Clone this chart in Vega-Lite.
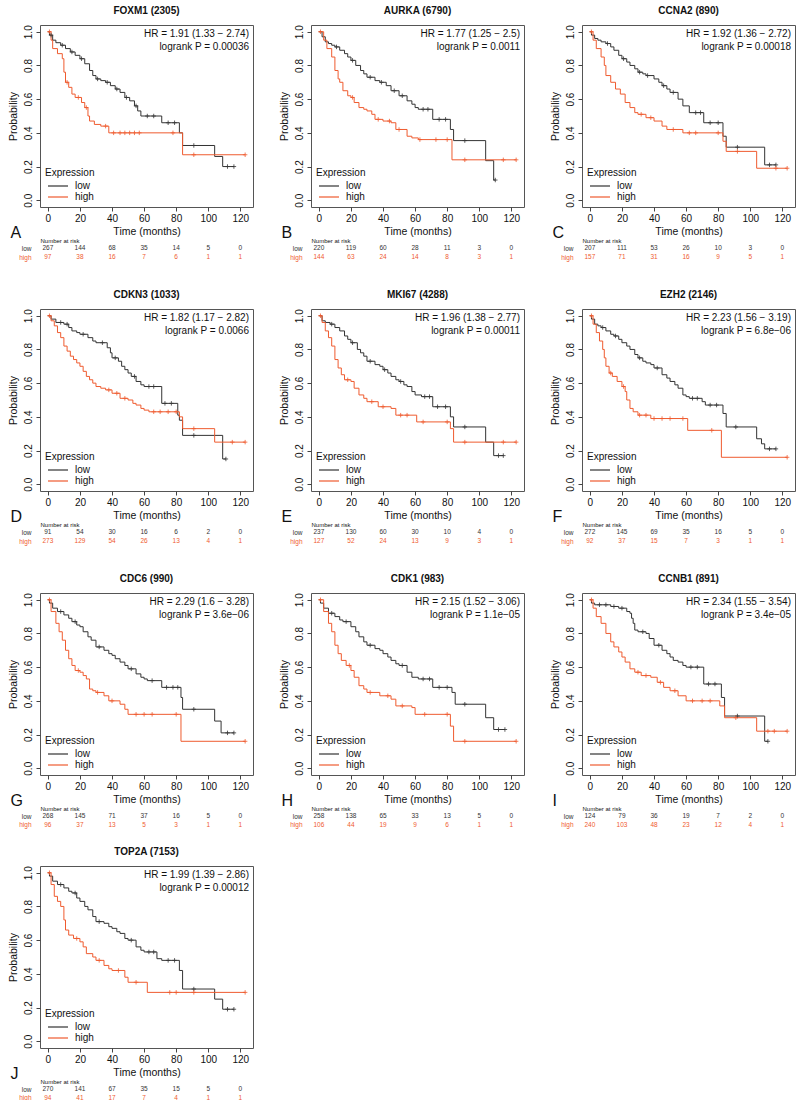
{
"$schema": "https://vega.github.io/schema/vega-lite/v6.json",
"padding": {"left": 7, "top": 5, "right": 2, "bottom": 2},
"config": {
 "font": "Liberation Sans",
 "view": {"stroke": "#555", "strokeWidth": 1},
 "axis": {"grid": false, "domain": false, "tickColor": "#444", "tickSize": 4, "labelColor": "#111", "titleColor": "#111", "labelFontSize": 10, "titleFontSize": 10.5, "titleFontWeight": "normal", "labelOverlap": false},
 "title": {"fontSize": 10, "fontWeight": "bold", "color": "#111", "offset": 9},
 "legend": {"orient": "bottom-left", "offset": 3, "padding": 2, "titleFontWeight": "normal", "titleFontSize": 10, "labelFontSize": 10, "symbolType": "M-2,0H2", "symbolSize": 100, "symbolOffset": 7, "symbolStrokeWidth": 1.2, "rowPadding": 0, "titlePadding": 2, "labelOffset": 11, "titleColor": "#111", "labelColor": "#111"}
},
"datasets": {
"info": [
{"p":"A","lab":"HR = 1.91 (1.33 − 2.74)\nlogrank P = 0.00036"},
{"p":"B","lab":"HR = 1.77 (1.25 − 2.5)\nlogrank P = 0.0011"},
{"p":"C","lab":"HR = 1.92 (1.36 − 2.72)\nlogrank P = 0.00018"},
{"p":"D","lab":"HR = 1.82 (1.17 − 2.82)\nlogrank P = 0.0066"},
{"p":"E","lab":"HR = 1.96 (1.38 − 2.77)\nlogrank P = 0.00011"},
{"p":"F","lab":"HR = 2.23 (1.56 − 3.19)\nlogrank P = 6.8e−06"},
{"p":"G","lab":"HR = 2.29 (1.6 − 3.28)\nlogrank P = 3.6e−06"},
{"p":"H","lab":"HR = 2.15 (1.52 − 3.06)\nlogrank P = 1.1e−05"},
{"p":"I","lab":"HR = 2.34 (1.55 − 3.54)\nlogrank P = 3.4e−05"},
{"p":"J","lab":"HR = 1.99 (1.39 − 2.86)\nlogrank P = 0.00012"}
],
"risk": [
{"p":"A","e":"low","t":0,"n":267},{"p":"A","e":"low","t":20,"n":144},{"p":"A","e":"low","t":40,"n":68},{"p":"A","e":"low","t":60,"n":35},{"p":"A","e":"low","t":80,"n":14},{"p":"A","e":"low","t":100,"n":5},{"p":"A","e":"low","t":120,"n":0},
{"p":"A","e":"high","t":0,"n":97},{"p":"A","e":"high","t":20,"n":38},{"p":"A","e":"high","t":40,"n":16},{"p":"A","e":"high","t":60,"n":7},{"p":"A","e":"high","t":80,"n":6},{"p":"A","e":"high","t":100,"n":1},{"p":"A","e":"high","t":120,"n":1},
{"p":"B","e":"low","t":0,"n":220},{"p":"B","e":"low","t":20,"n":119},{"p":"B","e":"low","t":40,"n":60},{"p":"B","e":"low","t":60,"n":28},{"p":"B","e":"low","t":80,"n":11},{"p":"B","e":"low","t":100,"n":3},{"p":"B","e":"low","t":120,"n":0},
{"p":"B","e":"high","t":0,"n":144},{"p":"B","e":"high","t":20,"n":63},{"p":"B","e":"high","t":40,"n":24},{"p":"B","e":"high","t":60,"n":14},{"p":"B","e":"high","t":80,"n":8},{"p":"B","e":"high","t":100,"n":3},{"p":"B","e":"high","t":120,"n":1},
{"p":"C","e":"low","t":0,"n":207},{"p":"C","e":"low","t":20,"n":111},{"p":"C","e":"low","t":40,"n":53},{"p":"C","e":"low","t":60,"n":26},{"p":"C","e":"low","t":80,"n":10},{"p":"C","e":"low","t":100,"n":3},{"p":"C","e":"low","t":120,"n":0},
{"p":"C","e":"high","t":0,"n":157},{"p":"C","e":"high","t":20,"n":71},{"p":"C","e":"high","t":40,"n":31},{"p":"C","e":"high","t":60,"n":16},{"p":"C","e":"high","t":80,"n":9},{"p":"C","e":"high","t":100,"n":5},{"p":"C","e":"high","t":120,"n":1},
{"p":"D","e":"low","t":0,"n":91},{"p":"D","e":"low","t":20,"n":54},{"p":"D","e":"low","t":40,"n":30},{"p":"D","e":"low","t":60,"n":16},{"p":"D","e":"low","t":80,"n":6},{"p":"D","e":"low","t":100,"n":2},{"p":"D","e":"low","t":120,"n":0},
{"p":"D","e":"high","t":0,"n":273},{"p":"D","e":"high","t":20,"n":129},{"p":"D","e":"high","t":40,"n":54},{"p":"D","e":"high","t":60,"n":26},{"p":"D","e":"high","t":80,"n":13},{"p":"D","e":"high","t":100,"n":4},{"p":"D","e":"high","t":120,"n":1},
{"p":"E","e":"low","t":0,"n":237},{"p":"E","e":"low","t":20,"n":130},{"p":"E","e":"low","t":40,"n":60},{"p":"E","e":"low","t":60,"n":30},{"p":"E","e":"low","t":80,"n":10},{"p":"E","e":"low","t":100,"n":4},{"p":"E","e":"low","t":120,"n":0},
{"p":"E","e":"high","t":0,"n":127},{"p":"E","e":"high","t":20,"n":52},{"p":"E","e":"high","t":40,"n":24},{"p":"E","e":"high","t":60,"n":13},{"p":"E","e":"high","t":80,"n":9},{"p":"E","e":"high","t":100,"n":3},{"p":"E","e":"high","t":120,"n":1},
{"p":"F","e":"low","t":0,"n":272},{"p":"F","e":"low","t":20,"n":145},{"p":"F","e":"low","t":40,"n":69},{"p":"F","e":"low","t":60,"n":35},{"p":"F","e":"low","t":80,"n":16},{"p":"F","e":"low","t":100,"n":5},{"p":"F","e":"low","t":120,"n":0},
{"p":"F","e":"high","t":0,"n":92},{"p":"F","e":"high","t":20,"n":37},{"p":"F","e":"high","t":40,"n":15},{"p":"F","e":"high","t":60,"n":7},{"p":"F","e":"high","t":80,"n":3},{"p":"F","e":"high","t":100,"n":1},{"p":"F","e":"high","t":120,"n":1},
{"p":"G","e":"low","t":0,"n":268},{"p":"G","e":"low","t":20,"n":145},{"p":"G","e":"low","t":40,"n":71},{"p":"G","e":"low","t":60,"n":37},{"p":"G","e":"low","t":80,"n":16},{"p":"G","e":"low","t":100,"n":5},{"p":"G","e":"low","t":120,"n":0},
{"p":"G","e":"high","t":0,"n":96},{"p":"G","e":"high","t":20,"n":37},{"p":"G","e":"high","t":40,"n":13},{"p":"G","e":"high","t":60,"n":5},{"p":"G","e":"high","t":80,"n":3},{"p":"G","e":"high","t":100,"n":1},{"p":"G","e":"high","t":120,"n":1},
{"p":"H","e":"low","t":0,"n":258},{"p":"H","e":"low","t":20,"n":138},{"p":"H","e":"low","t":40,"n":65},{"p":"H","e":"low","t":60,"n":33},{"p":"H","e":"low","t":80,"n":13},{"p":"H","e":"low","t":100,"n":5},{"p":"H","e":"low","t":120,"n":0},
{"p":"H","e":"high","t":0,"n":106},{"p":"H","e":"high","t":20,"n":44},{"p":"H","e":"high","t":40,"n":19},{"p":"H","e":"high","t":60,"n":9},{"p":"H","e":"high","t":80,"n":6},{"p":"H","e":"high","t":100,"n":1},{"p":"H","e":"high","t":120,"n":1},
{"p":"I","e":"low","t":0,"n":124},{"p":"I","e":"low","t":20,"n":79},{"p":"I","e":"low","t":40,"n":36},{"p":"I","e":"low","t":60,"n":19},{"p":"I","e":"low","t":80,"n":7},{"p":"I","e":"low","t":100,"n":2},{"p":"I","e":"low","t":120,"n":0},
{"p":"I","e":"high","t":0,"n":240},{"p":"I","e":"high","t":20,"n":103},{"p":"I","e":"high","t":40,"n":48},{"p":"I","e":"high","t":60,"n":23},{"p":"I","e":"high","t":80,"n":12},{"p":"I","e":"high","t":100,"n":4},{"p":"I","e":"high","t":120,"n":1},
{"p":"J","e":"low","t":0,"n":270},{"p":"J","e":"low","t":20,"n":141},{"p":"J","e":"low","t":40,"n":67},{"p":"J","e":"low","t":60,"n":35},{"p":"J","e":"low","t":80,"n":15},{"p":"J","e":"low","t":100,"n":5},{"p":"J","e":"low","t":120,"n":0},
{"p":"J","e":"high","t":0,"n":94},{"p":"J","e":"high","t":20,"n":41},{"p":"J","e":"high","t":40,"n":17},{"p":"J","e":"high","t":60,"n":7},{"p":"J","e":"high","t":80,"n":4},{"p":"J","e":"high","t":100,"n":1},{"p":"J","e":"high","t":120,"n":1}
],
"km": [
{"p":"A","e":"low","t":0,"s":1},{"p":"A","e":"low","t":1,"s":0.98},{"p":"A","e":"low","t":2,"s":0.98,"c":1},{"p":"A","e":"low","t":3,"s":0.95},{"p":"A","e":"low","t":5,"s":0.935},{"p":"A","e":"low","t":8,"s":0.92},{"p":"A","e":"low","t":9,"s":0.92,"c":1},{"p":"A","e":"low","t":11,"s":0.9},{"p":"A","e":"low","t":14,"s":0.88},{"p":"A","e":"low","t":15,"s":0.88,"c":1},{"p":"A","e":"low","t":17,"s":0.86},{"p":"A","e":"low","t":20,"s":0.84},{"p":"A","e":"low","t":21,"s":0.84,"c":1},{"p":"A","e":"low","t":23,"s":0.81},{"p":"A","e":"low","t":26,"s":0.77},{"p":"A","e":"low","t":28,"s":0.74},{"p":"A","e":"low","t":30,"s":0.72},{"p":"A","e":"low","t":31,"s":0.72,"c":1},{"p":"A","e":"low","t":33,"s":0.71},{"p":"A","e":"low","t":36,"s":0.7},{"p":"A","e":"low","t":37,"s":0.7,"c":1},{"p":"A","e":"low","t":39,"s":0.68},{"p":"A","e":"low","t":42,"s":0.66},{"p":"A","e":"low","t":43,"s":0.66,"c":1},{"p":"A","e":"low","t":45,"s":0.64},{"p":"A","e":"low","t":48,"s":0.61},{"p":"A","e":"low","t":49,"s":0.61,"c":1},{"p":"A","e":"low","t":51,"s":0.59},{"p":"A","e":"low","t":54,"s":0.56},{"p":"A","e":"low","t":55,"s":0.56,"c":1},{"p":"A","e":"low","t":56,"s":0.53},{"p":"A","e":"low","t":58,"s":0.5},{"p":"A","e":"low","t":62,"s":0.5,"c":1},{"p":"A","e":"low","t":66,"s":0.5,"c":1},{"p":"A","e":"low","t":71,"s":0.46},{"p":"A","e":"low","t":75,"s":0.46,"c":1},{"p":"A","e":"low","t":79,"s":0.46,"c":1},{"p":"A","e":"low","t":82,"s":0.4},{"p":"A","e":"low","t":84,"s":0.325},{"p":"A","e":"low","t":91,"s":0.325,"c":1},{"p":"A","e":"low","t":104,"s":0.26},{"p":"A","e":"low","t":109,"s":0.2},{"p":"A","e":"low","t":112,"s":0.2,"c":1},{"p":"A","e":"low","t":116,"s":0.2,"c":1},
{"p":"A","e":"high","t":0,"s":1},{"p":"A","e":"high","t":1,"s":1,"c":1},{"p":"A","e":"high","t":2,"s":0.95},{"p":"A","e":"high","t":3,"s":0.9},{"p":"A","e":"high","t":6,"s":0.87},{"p":"A","e":"high","t":9,"s":0.84},{"p":"A","e":"high","t":10,"s":0.76},{"p":"A","e":"high","t":11,"s":0.7},{"p":"A","e":"high","t":12,"s":0.7,"c":1},{"p":"A","e":"high","t":13,"s":0.67},{"p":"A","e":"high","t":15,"s":0.63},{"p":"A","e":"high","t":17,"s":0.61},{"p":"A","e":"high","t":19,"s":0.61,"c":1},{"p":"A","e":"high","t":21,"s":0.58},{"p":"A","e":"high","t":23,"s":0.55},{"p":"A","e":"high","t":24,"s":0.55,"c":1},{"p":"A","e":"high","t":25,"s":0.5},{"p":"A","e":"high","t":26,"s":0.47},{"p":"A","e":"high","t":29,"s":0.45},{"p":"A","e":"high","t":33,"s":0.44},{"p":"A","e":"high","t":36,"s":0.44,"c":1},{"p":"A","e":"high","t":38,"s":0.4},{"p":"A","e":"high","t":41,"s":0.4,"c":1},{"p":"A","e":"high","t":45,"s":0.4,"c":1},{"p":"A","e":"high","t":48,"s":0.4,"c":1},{"p":"A","e":"high","t":51,"s":0.4,"c":1},{"p":"A","e":"high","t":54,"s":0.4,"c":1},{"p":"A","e":"high","t":57,"s":0.4,"c":1},{"p":"A","e":"high","t":78,"s":0.4,"c":1},{"p":"A","e":"high","t":84,"s":0.27},{"p":"A","e":"high","t":91,"s":0.27,"c":1},{"p":"A","e":"high","t":123,"s":0.27,"c":1},
{"p":"B","e":"low","t":0,"s":1},{"p":"B","e":"low","t":2,"s":0.97},{"p":"B","e":"low","t":4,"s":0.94},{"p":"B","e":"low","t":6,"s":0.93},{"p":"B","e":"low","t":8,"s":0.92},{"p":"B","e":"low","t":10,"s":0.91},{"p":"B","e":"low","t":11,"s":0.91,"c":1},{"p":"B","e":"low","t":13,"s":0.89},{"p":"B","e":"low","t":16,"s":0.87},{"p":"B","e":"low","t":18,"s":0.85},{"p":"B","e":"low","t":20,"s":0.83},{"p":"B","e":"low","t":21,"s":0.83,"c":1},{"p":"B","e":"low","t":23,"s":0.8},{"p":"B","e":"low","t":26,"s":0.77},{"p":"B","e":"low","t":28,"s":0.75},{"p":"B","e":"low","t":30,"s":0.73},{"p":"B","e":"low","t":32,"s":0.73,"c":1},{"p":"B","e":"low","t":35,"s":0.71},{"p":"B","e":"low","t":38,"s":0.7},{"p":"B","e":"low","t":39,"s":0.7,"c":1},{"p":"B","e":"low","t":42,"s":0.68},{"p":"B","e":"low","t":45,"s":0.65},{"p":"B","e":"low","t":47,"s":0.65,"c":1},{"p":"B","e":"low","t":50,"s":0.62},{"p":"B","e":"low","t":52,"s":0.62,"c":1},{"p":"B","e":"low","t":55,"s":0.59},{"p":"B","e":"low","t":58,"s":0.57},{"p":"B","e":"low","t":60,"s":0.55},{"p":"B","e":"low","t":62,"s":0.54},{"p":"B","e":"low","t":65,"s":0.54,"c":1},{"p":"B","e":"low","t":68,"s":0.54,"c":1},{"p":"B","e":"low","t":71,"s":0.48},{"p":"B","e":"low","t":75,"s":0.48,"c":1},{"p":"B","e":"low","t":79,"s":0.48,"c":1},{"p":"B","e":"low","t":82,"s":0.42},{"p":"B","e":"low","t":84,"s":0.354},{"p":"B","e":"low","t":91,"s":0.354,"c":1},{"p":"B","e":"low","t":104,"s":0.235},{"p":"B","e":"low","t":109,"s":0.12},{"p":"B","e":"low","t":110,"s":0.12,"c":1},
{"p":"B","e":"high","t":0,"s":1},{"p":"B","e":"high","t":1,"s":1,"c":1},{"p":"B","e":"high","t":3,"s":0.95},{"p":"B","e":"high","t":5,"s":0.9},{"p":"B","e":"high","t":8,"s":0.85},{"p":"B","e":"high","t":10,"s":0.77},{"p":"B","e":"high","t":12,"s":0.72},{"p":"B","e":"high","t":13,"s":0.7},{"p":"B","e":"high","t":15,"s":0.65},{"p":"B","e":"high","t":18,"s":0.62},{"p":"B","e":"high","t":20,"s":0.61},{"p":"B","e":"high","t":21,"s":0.61,"c":1},{"p":"B","e":"high","t":22,"s":0.58},{"p":"B","e":"high","t":25,"s":0.55},{"p":"B","e":"high","t":28,"s":0.54},{"p":"B","e":"high","t":30,"s":0.53},{"p":"B","e":"high","t":33,"s":0.51},{"p":"B","e":"high","t":35,"s":0.48},{"p":"B","e":"high","t":37,"s":0.48,"c":1},{"p":"B","e":"high","t":40,"s":0.47},{"p":"B","e":"high","t":44,"s":0.47,"c":1},{"p":"B","e":"high","t":45,"s":0.46},{"p":"B","e":"high","t":48,"s":0.42},{"p":"B","e":"high","t":50,"s":0.42,"c":1},{"p":"B","e":"high","t":55,"s":0.38},{"p":"B","e":"high","t":58,"s":0.37},{"p":"B","e":"high","t":62,"s":0.36},{"p":"B","e":"high","t":63,"s":0.36,"c":1},{"p":"B","e":"high","t":73,"s":0.36,"c":1},{"p":"B","e":"high","t":80,"s":0.36,"c":1},{"p":"B","e":"high","t":83,"s":0.24},{"p":"B","e":"high","t":91,"s":0.24,"c":1},{"p":"B","e":"high","t":115,"s":0.24,"c":1},{"p":"B","e":"high","t":123,"s":0.24,"c":1},
{"p":"C","e":"low","t":0,"s":1},{"p":"C","e":"low","t":1,"s":0.98},{"p":"C","e":"low","t":3,"s":0.96},{"p":"C","e":"low","t":5,"s":0.95},{"p":"C","e":"low","t":7,"s":0.94},{"p":"C","e":"low","t":10,"s":0.93},{"p":"C","e":"low","t":11,"s":0.93,"c":1},{"p":"C","e":"low","t":13,"s":0.91},{"p":"C","e":"low","t":15,"s":0.89},{"p":"C","e":"low","t":18,"s":0.86},{"p":"C","e":"low","t":20,"s":0.84},{"p":"C","e":"low","t":21,"s":0.84,"c":1},{"p":"C","e":"low","t":23,"s":0.82},{"p":"C","e":"low","t":25,"s":0.8},{"p":"C","e":"low","t":28,"s":0.78},{"p":"C","e":"low","t":30,"s":0.76},{"p":"C","e":"low","t":31,"s":0.76,"c":1},{"p":"C","e":"low","t":33,"s":0.75},{"p":"C","e":"low","t":35,"s":0.74},{"p":"C","e":"low","t":36,"s":0.74,"c":1},{"p":"C","e":"low","t":40,"s":0.72},{"p":"C","e":"low","t":43,"s":0.7},{"p":"C","e":"low","t":45,"s":0.68},{"p":"C","e":"low","t":46,"s":0.68,"c":1},{"p":"C","e":"low","t":48,"s":0.66},{"p":"C","e":"low","t":50,"s":0.64},{"p":"C","e":"low","t":52,"s":0.64,"c":1},{"p":"C","e":"low","t":55,"s":0.6},{"p":"C","e":"low","t":58,"s":0.56},{"p":"C","e":"low","t":62,"s":0.52},{"p":"C","e":"low","t":66,"s":0.52,"c":1},{"p":"C","e":"low","t":69,"s":0.52,"c":1},{"p":"C","e":"low","t":71,"s":0.46},{"p":"C","e":"low","t":75,"s":0.46,"c":1},{"p":"C","e":"low","t":80,"s":0.46,"c":1},{"p":"C","e":"low","t":83,"s":0.38},{"p":"C","e":"low","t":85,"s":0.315},{"p":"C","e":"low","t":92,"s":0.315,"c":1},{"p":"C","e":"low","t":109,"s":0.21},{"p":"C","e":"low","t":112,"s":0.21,"c":1},{"p":"C","e":"low","t":116,"s":0.21,"c":1},
{"p":"C","e":"high","t":0,"s":1},{"p":"C","e":"high","t":1,"s":1,"c":1},{"p":"C","e":"high","t":2,"s":0.95},{"p":"C","e":"high","t":4,"s":0.9},{"p":"C","e":"high","t":7,"s":0.85},{"p":"C","e":"high","t":9,"s":0.8},{"p":"C","e":"high","t":10,"s":0.74},{"p":"C","e":"high","t":13,"s":0.7},{"p":"C","e":"high","t":16,"s":0.66},{"p":"C","e":"high","t":19,"s":0.63},{"p":"C","e":"high","t":22,"s":0.58},{"p":"C","e":"high","t":25,"s":0.55},{"p":"C","e":"high","t":28,"s":0.52},{"p":"C","e":"high","t":30,"s":0.51},{"p":"C","e":"high","t":32,"s":0.51,"c":1},{"p":"C","e":"high","t":35,"s":0.49},{"p":"C","e":"high","t":38,"s":0.49,"c":1},{"p":"C","e":"high","t":40,"s":0.47},{"p":"C","e":"high","t":45,"s":0.44},{"p":"C","e":"high","t":48,"s":0.42},{"p":"C","e":"high","t":52,"s":0.42,"c":1},{"p":"C","e":"high","t":58,"s":0.4},{"p":"C","e":"high","t":62,"s":0.4,"c":1},{"p":"C","e":"high","t":66,"s":0.4,"c":1},{"p":"C","e":"high","t":80,"s":0.4,"c":1},{"p":"C","e":"high","t":83,"s":0.35},{"p":"C","e":"high","t":85,"s":0.29},{"p":"C","e":"high","t":92,"s":0.29,"c":1},{"p":"C","e":"high","t":104,"s":0.19},{"p":"C","e":"high","t":116,"s":0.19,"c":1},{"p":"C","e":"high","t":123,"s":0.19,"c":1},
{"p":"D","e":"low","t":0,"s":1},{"p":"D","e":"low","t":2,"s":0.98},{"p":"D","e":"low","t":5,"s":0.96},{"p":"D","e":"low","t":8,"s":0.96,"c":1},{"p":"D","e":"low","t":10,"s":0.95},{"p":"D","e":"low","t":12,"s":0.95,"c":1},{"p":"D","e":"low","t":13,"s":0.93},{"p":"D","e":"low","t":15,"s":0.91},{"p":"D","e":"low","t":18,"s":0.9},{"p":"D","e":"low","t":20,"s":0.89},{"p":"D","e":"low","t":22,"s":0.89,"c":1},{"p":"D","e":"low","t":25,"s":0.87},{"p":"D","e":"low","t":28,"s":0.85},{"p":"D","e":"low","t":30,"s":0.84},{"p":"D","e":"low","t":34,"s":0.84,"c":1},{"p":"D","e":"low","t":37,"s":0.81},{"p":"D","e":"low","t":39,"s":0.78},{"p":"D","e":"low","t":40,"s":0.75},{"p":"D","e":"low","t":42,"s":0.75,"c":1},{"p":"D","e":"low","t":44,"s":0.73},{"p":"D","e":"low","t":46,"s":0.7},{"p":"D","e":"low","t":48,"s":0.68},{"p":"D","e":"low","t":50,"s":0.66},{"p":"D","e":"low","t":52,"s":0.64},{"p":"D","e":"low","t":54,"s":0.64,"c":1},{"p":"D","e":"low","t":55,"s":0.61},{"p":"D","e":"low","t":58,"s":0.59},{"p":"D","e":"low","t":60,"s":0.58},{"p":"D","e":"low","t":63,"s":0.58,"c":1},{"p":"D","e":"low","t":66,"s":0.58,"c":1},{"p":"D","e":"low","t":71,"s":0.48},{"p":"D","e":"low","t":73,"s":0.48,"c":1},{"p":"D","e":"low","t":77,"s":0.48,"c":1},{"p":"D","e":"low","t":81,"s":0.41},{"p":"D","e":"low","t":82,"s":0.38},{"p":"D","e":"low","t":84,"s":0.29},{"p":"D","e":"low","t":91,"s":0.29,"c":1},{"p":"D","e":"low","t":109,"s":0.15},{"p":"D","e":"low","t":111,"s":0.15,"c":1},
{"p":"D","e":"high","t":0,"s":1},{"p":"D","e":"high","t":1,"s":1,"c":1},{"p":"D","e":"high","t":2,"s":0.97},{"p":"D","e":"high","t":4,"s":0.94},{"p":"D","e":"high","t":6,"s":0.9},{"p":"D","e":"high","t":8,"s":0.87},{"p":"D","e":"high","t":10,"s":0.82},{"p":"D","e":"high","t":12,"s":0.79},{"p":"D","e":"high","t":14,"s":0.76},{"p":"D","e":"high","t":16,"s":0.74},{"p":"D","e":"high","t":18,"s":0.72},{"p":"D","e":"high","t":20,"s":0.7},{"p":"D","e":"high","t":22,"s":0.67},{"p":"D","e":"high","t":24,"s":0.64},{"p":"D","e":"high","t":26,"s":0.62},{"p":"D","e":"high","t":28,"s":0.6},{"p":"D","e":"high","t":30,"s":0.58},{"p":"D","e":"high","t":33,"s":0.57},{"p":"D","e":"high","t":36,"s":0.56},{"p":"D","e":"high","t":38,"s":0.56,"c":1},{"p":"D","e":"high","t":40,"s":0.54},{"p":"D","e":"high","t":43,"s":0.54,"c":1},{"p":"D","e":"high","t":45,"s":0.51},{"p":"D","e":"high","t":48,"s":0.51,"c":1},{"p":"D","e":"high","t":50,"s":0.5},{"p":"D","e":"high","t":53,"s":0.48},{"p":"D","e":"high","t":55,"s":0.47},{"p":"D","e":"high","t":58,"s":0.45},{"p":"D","e":"high","t":60,"s":0.44},{"p":"D","e":"high","t":63,"s":0.43},{"p":"D","e":"high","t":66,"s":0.43,"c":1},{"p":"D","e":"high","t":70,"s":0.43,"c":1},{"p":"D","e":"high","t":75,"s":0.43,"c":1},{"p":"D","e":"high","t":80,"s":0.43,"c":1},{"p":"D","e":"high","t":82,"s":0.4},{"p":"D","e":"high","t":84,"s":0.33},{"p":"D","e":"high","t":91,"s":0.33,"c":1},{"p":"D","e":"high","t":104,"s":0.25},{"p":"D","e":"high","t":115,"s":0.25,"c":1},{"p":"D","e":"high","t":123,"s":0.25,"c":1},
{"p":"E","e":"low","t":0,"s":1},{"p":"E","e":"low","t":2,"s":0.97},{"p":"E","e":"low","t":4,"s":0.96},{"p":"E","e":"low","t":7,"s":0.95},{"p":"E","e":"low","t":8,"s":0.95,"c":1},{"p":"E","e":"low","t":10,"s":0.93},{"p":"E","e":"low","t":13,"s":0.91},{"p":"E","e":"low","t":16,"s":0.88},{"p":"E","e":"low","t":18,"s":0.86},{"p":"E","e":"low","t":20,"s":0.84},{"p":"E","e":"low","t":21,"s":0.84,"c":1},{"p":"E","e":"low","t":24,"s":0.8},{"p":"E","e":"low","t":26,"s":0.78},{"p":"E","e":"low","t":28,"s":0.76},{"p":"E","e":"low","t":30,"s":0.73},{"p":"E","e":"low","t":32,"s":0.73,"c":1},{"p":"E","e":"low","t":35,"s":0.71},{"p":"E","e":"low","t":38,"s":0.7},{"p":"E","e":"low","t":40,"s":0.68},{"p":"E","e":"low","t":41,"s":0.68,"c":1},{"p":"E","e":"low","t":43,"s":0.66},{"p":"E","e":"low","t":45,"s":0.64},{"p":"E","e":"low","t":48,"s":0.62},{"p":"E","e":"low","t":50,"s":0.61},{"p":"E","e":"low","t":51,"s":0.61,"c":1},{"p":"E","e":"low","t":53,"s":0.59},{"p":"E","e":"low","t":55,"s":0.58},{"p":"E","e":"low","t":58,"s":0.55},{"p":"E","e":"low","t":60,"s":0.53},{"p":"E","e":"low","t":64,"s":0.52},{"p":"E","e":"low","t":66,"s":0.52,"c":1},{"p":"E","e":"low","t":69,"s":0.52,"c":1},{"p":"E","e":"low","t":71,"s":0.46},{"p":"E","e":"low","t":74,"s":0.46,"c":1},{"p":"E","e":"low","t":79,"s":0.46,"c":1},{"p":"E","e":"low","t":82,"s":0.4},{"p":"E","e":"low","t":84,"s":0.34},{"p":"E","e":"low","t":91,"s":0.34,"c":1},{"p":"E","e":"low","t":104,"s":0.25},{"p":"E","e":"low","t":109,"s":0.17},{"p":"E","e":"low","t":112,"s":0.17,"c":1},{"p":"E","e":"low","t":115,"s":0.17,"c":1},
{"p":"E","e":"high","t":0,"s":1},{"p":"E","e":"high","t":1,"s":1,"c":1},{"p":"E","e":"high","t":2,"s":0.96},{"p":"E","e":"high","t":4,"s":0.91},{"p":"E","e":"high","t":6,"s":0.87},{"p":"E","e":"high","t":8,"s":0.82},{"p":"E","e":"high","t":10,"s":0.74},{"p":"E","e":"high","t":12,"s":0.69},{"p":"E","e":"high","t":14,"s":0.65},{"p":"E","e":"high","t":16,"s":0.62},{"p":"E","e":"high","t":18,"s":0.62,"c":1},{"p":"E","e":"high","t":20,"s":0.61},{"p":"E","e":"high","t":22,"s":0.57},{"p":"E","e":"high","t":25,"s":0.53},{"p":"E","e":"high","t":28,"s":0.51},{"p":"E","e":"high","t":30,"s":0.49},{"p":"E","e":"high","t":33,"s":0.49,"c":1},{"p":"E","e":"high","t":37,"s":0.46},{"p":"E","e":"high","t":40,"s":0.46,"c":1},{"p":"E","e":"high","t":45,"s":0.45},{"p":"E","e":"high","t":48,"s":0.41},{"p":"E","e":"high","t":51,"s":0.41,"c":1},{"p":"E","e":"high","t":55,"s":0.41,"c":1},{"p":"E","e":"high","t":61,"s":0.37},{"p":"E","e":"high","t":65,"s":0.37,"c":1},{"p":"E","e":"high","t":80,"s":0.37,"c":1},{"p":"E","e":"high","t":82,"s":0.33},{"p":"E","e":"high","t":84,"s":0.25},{"p":"E","e":"high","t":91,"s":0.25,"c":1},{"p":"E","e":"high","t":115,"s":0.25,"c":1},{"p":"E","e":"high","t":123,"s":0.25,"c":1},
{"p":"F","e":"low","t":0,"s":1},{"p":"F","e":"low","t":1,"s":0.98},{"p":"F","e":"low","t":3,"s":0.95},{"p":"F","e":"low","t":5,"s":0.94},{"p":"F","e":"low","t":7,"s":0.93},{"p":"F","e":"low","t":8,"s":0.93,"c":1},{"p":"F","e":"low","t":10,"s":0.91},{"p":"F","e":"low","t":13,"s":0.89},{"p":"F","e":"low","t":15,"s":0.88},{"p":"F","e":"low","t":16,"s":0.88,"c":1},{"p":"F","e":"low","t":18,"s":0.86},{"p":"F","e":"low","t":20,"s":0.84},{"p":"F","e":"low","t":23,"s":0.82},{"p":"F","e":"low","t":25,"s":0.8},{"p":"F","e":"low","t":28,"s":0.77},{"p":"F","e":"low","t":30,"s":0.75},{"p":"F","e":"low","t":31,"s":0.75,"c":1},{"p":"F","e":"low","t":33,"s":0.73},{"p":"F","e":"low","t":35,"s":0.72},{"p":"F","e":"low","t":38,"s":0.71},{"p":"F","e":"low","t":40,"s":0.69},{"p":"F","e":"low","t":42,"s":0.69,"c":1},{"p":"F","e":"low","t":45,"s":0.65},{"p":"F","e":"low","t":48,"s":0.63},{"p":"F","e":"low","t":50,"s":0.61},{"p":"F","e":"low","t":53,"s":0.59},{"p":"F","e":"low","t":55,"s":0.57},{"p":"F","e":"low","t":58,"s":0.53},{"p":"F","e":"low","t":60,"s":0.52},{"p":"F","e":"low","t":62,"s":0.51},{"p":"F","e":"low","t":64,"s":0.51,"c":1},{"p":"F","e":"low","t":67,"s":0.51,"c":1},{"p":"F","e":"low","t":70,"s":0.49},{"p":"F","e":"low","t":72,"s":0.47},{"p":"F","e":"low","t":75,"s":0.47,"c":1},{"p":"F","e":"low","t":79,"s":0.47,"c":1},{"p":"F","e":"low","t":83,"s":0.42},{"p":"F","e":"low","t":85,"s":0.34},{"p":"F","e":"low","t":91,"s":0.34,"c":1},{"p":"F","e":"low","t":104,"s":0.27},{"p":"F","e":"low","t":107,"s":0.24},{"p":"F","e":"low","t":109,"s":0.21},{"p":"F","e":"low","t":112,"s":0.21,"c":1},{"p":"F","e":"low","t":116,"s":0.21,"c":1},
{"p":"F","e":"high","t":0,"s":1},{"p":"F","e":"high","t":1,"s":1,"c":1},{"p":"F","e":"high","t":2,"s":0.95},{"p":"F","e":"high","t":4,"s":0.9},{"p":"F","e":"high","t":6,"s":0.85},{"p":"F","e":"high","t":8,"s":0.8},{"p":"F","e":"high","t":9,"s":0.75},{"p":"F","e":"high","t":10,"s":0.7},{"p":"F","e":"high","t":12,"s":0.66},{"p":"F","e":"high","t":13,"s":0.66,"c":1},{"p":"F","e":"high","t":14,"s":0.64},{"p":"F","e":"high","t":17,"s":0.61},{"p":"F","e":"high","t":20,"s":0.58},{"p":"F","e":"high","t":21,"s":0.58,"c":1},{"p":"F","e":"high","t":22,"s":0.55},{"p":"F","e":"high","t":23,"s":0.5},{"p":"F","e":"high","t":25,"s":0.45},{"p":"F","e":"high","t":27,"s":0.43},{"p":"F","e":"high","t":30,"s":0.41},{"p":"F","e":"high","t":31,"s":0.41,"c":1},{"p":"F","e":"high","t":35,"s":0.41,"c":1},{"p":"F","e":"high","t":38,"s":0.39},{"p":"F","e":"high","t":40,"s":0.39,"c":1},{"p":"F","e":"high","t":45,"s":0.39,"c":1},{"p":"F","e":"high","t":50,"s":0.39,"c":1},{"p":"F","e":"high","t":58,"s":0.39,"c":1},{"p":"F","e":"high","t":61,"s":0.32},{"p":"F","e":"high","t":76,"s":0.32,"c":1},{"p":"F","e":"high","t":82,"s":0.16},{"p":"F","e":"high","t":123,"s":0.16,"c":1},
{"p":"G","e":"low","t":0,"s":1},{"p":"G","e":"low","t":1,"s":0.98},{"p":"G","e":"low","t":3,"s":0.95},{"p":"G","e":"low","t":6,"s":0.93},{"p":"G","e":"low","t":8,"s":0.93,"c":1},{"p":"G","e":"low","t":10,"s":0.91},{"p":"G","e":"low","t":13,"s":0.89},{"p":"G","e":"low","t":15,"s":0.87},{"p":"G","e":"low","t":17,"s":0.87,"c":1},{"p":"G","e":"low","t":18,"s":0.85},{"p":"G","e":"low","t":20,"s":0.84},{"p":"G","e":"low","t":22,"s":0.81},{"p":"G","e":"low","t":25,"s":0.78},{"p":"G","e":"low","t":27,"s":0.76},{"p":"G","e":"low","t":30,"s":0.72},{"p":"G","e":"low","t":32,"s":0.72,"c":1},{"p":"G","e":"low","t":35,"s":0.7},{"p":"G","e":"low","t":38,"s":0.68},{"p":"G","e":"low","t":40,"s":0.67},{"p":"G","e":"low","t":42,"s":0.65},{"p":"G","e":"low","t":45,"s":0.63},{"p":"G","e":"low","t":48,"s":0.61},{"p":"G","e":"low","t":50,"s":0.59},{"p":"G","e":"low","t":52,"s":0.59,"c":1},{"p":"G","e":"low","t":55,"s":0.56},{"p":"G","e":"low","t":58,"s":0.54},{"p":"G","e":"low","t":60,"s":0.53},{"p":"G","e":"low","t":62,"s":0.52},{"p":"G","e":"low","t":65,"s":0.52,"c":1},{"p":"G","e":"low","t":71,"s":0.48},{"p":"G","e":"low","t":74,"s":0.48,"c":1},{"p":"G","e":"low","t":78,"s":0.48,"c":1},{"p":"G","e":"low","t":81,"s":0.48,"c":1},{"p":"G","e":"low","t":83,"s":0.42},{"p":"G","e":"low","t":84,"s":0.35},{"p":"G","e":"low","t":91,"s":0.35,"c":1},{"p":"G","e":"low","t":104,"s":0.28},{"p":"G","e":"low","t":108,"s":0.21},{"p":"G","e":"low","t":112,"s":0.21,"c":1},{"p":"G","e":"low","t":116,"s":0.21,"c":1},
{"p":"G","e":"high","t":0,"s":1},{"p":"G","e":"high","t":1,"s":1,"c":1},{"p":"G","e":"high","t":2,"s":0.93},{"p":"G","e":"high","t":5,"s":0.86},{"p":"G","e":"high","t":7,"s":0.81},{"p":"G","e":"high","t":9,"s":0.76},{"p":"G","e":"high","t":11,"s":0.7},{"p":"G","e":"high","t":13,"s":0.65},{"p":"G","e":"high","t":15,"s":0.61},{"p":"G","e":"high","t":17,"s":0.58},{"p":"G","e":"high","t":19,"s":0.58,"c":1},{"p":"G","e":"high","t":20,"s":0.57},{"p":"G","e":"high","t":22,"s":0.55},{"p":"G","e":"high","t":24,"s":0.53},{"p":"G","e":"high","t":26,"s":0.47},{"p":"G","e":"high","t":28,"s":0.46},{"p":"G","e":"high","t":30,"s":0.45},{"p":"G","e":"high","t":31,"s":0.45,"c":1},{"p":"G","e":"high","t":35,"s":0.43},{"p":"G","e":"high","t":38,"s":0.4},{"p":"G","e":"high","t":40,"s":0.4,"c":1},{"p":"G","e":"high","t":45,"s":0.38},{"p":"G","e":"high","t":48,"s":0.35},{"p":"G","e":"high","t":50,"s":0.32},{"p":"G","e":"high","t":55,"s":0.32,"c":1},{"p":"G","e":"high","t":60,"s":0.32,"c":1},{"p":"G","e":"high","t":65,"s":0.32,"c":1},{"p":"G","e":"high","t":80,"s":0.32,"c":1},{"p":"G","e":"high","t":83,"s":0.16},{"p":"G","e":"high","t":123,"s":0.16,"c":1},
{"p":"H","e":"low","t":0,"s":1},{"p":"H","e":"low","t":1,"s":0.98},{"p":"H","e":"low","t":3,"s":0.95},{"p":"H","e":"low","t":6,"s":0.92},{"p":"H","e":"low","t":8,"s":0.92,"c":1},{"p":"H","e":"low","t":10,"s":0.9},{"p":"H","e":"low","t":13,"s":0.88},{"p":"H","e":"low","t":15,"s":0.87},{"p":"H","e":"low","t":17,"s":0.87,"c":1},{"p":"H","e":"low","t":20,"s":0.84},{"p":"H","e":"low","t":23,"s":0.81},{"p":"H","e":"low","t":25,"s":0.78},{"p":"H","e":"low","t":28,"s":0.75},{"p":"H","e":"low","t":30,"s":0.73},{"p":"H","e":"low","t":32,"s":0.73,"c":1},{"p":"H","e":"low","t":35,"s":0.71},{"p":"H","e":"low","t":38,"s":0.7},{"p":"H","e":"low","t":40,"s":0.68},{"p":"H","e":"low","t":43,"s":0.66},{"p":"H","e":"low","t":45,"s":0.64},{"p":"H","e":"low","t":48,"s":0.62},{"p":"H","e":"low","t":50,"s":0.61},{"p":"H","e":"low","t":52,"s":0.61,"c":1},{"p":"H","e":"low","t":55,"s":0.57},{"p":"H","e":"low","t":58,"s":0.54},{"p":"H","e":"low","t":62,"s":0.53},{"p":"H","e":"low","t":65,"s":0.53,"c":1},{"p":"H","e":"low","t":69,"s":0.53,"c":1},{"p":"H","e":"low","t":71,"s":0.48},{"p":"H","e":"low","t":75,"s":0.48,"c":1},{"p":"H","e":"low","t":80,"s":0.48,"c":1},{"p":"H","e":"low","t":83,"s":0.45},{"p":"H","e":"low","t":85,"s":0.38},{"p":"H","e":"low","t":91,"s":0.38,"c":1},{"p":"H","e":"low","t":104,"s":0.3},{"p":"H","e":"low","t":109,"s":0.23},{"p":"H","e":"low","t":112,"s":0.23,"c":1},{"p":"H","e":"low","t":116,"s":0.23,"c":1},
{"p":"H","e":"high","t":0,"s":1},{"p":"H","e":"high","t":1,"s":1,"c":1},{"p":"H","e":"high","t":3,"s":0.93},{"p":"H","e":"high","t":6,"s":0.86},{"p":"H","e":"high","t":8,"s":0.81},{"p":"H","e":"high","t":10,"s":0.73},{"p":"H","e":"high","t":12,"s":0.68},{"p":"H","e":"high","t":14,"s":0.64},{"p":"H","e":"high","t":17,"s":0.61},{"p":"H","e":"high","t":19,"s":0.61,"c":1},{"p":"H","e":"high","t":20,"s":0.58},{"p":"H","e":"high","t":22,"s":0.54},{"p":"H","e":"high","t":25,"s":0.49},{"p":"H","e":"high","t":28,"s":0.47},{"p":"H","e":"high","t":30,"s":0.45},{"p":"H","e":"high","t":32,"s":0.45,"c":1},{"p":"H","e":"high","t":38,"s":0.43},{"p":"H","e":"high","t":43,"s":0.43,"c":1},{"p":"H","e":"high","t":45,"s":0.41},{"p":"H","e":"high","t":48,"s":0.37},{"p":"H","e":"high","t":52,"s":0.37,"c":1},{"p":"H","e":"high","t":58,"s":0.36},{"p":"H","e":"high","t":60,"s":0.32},{"p":"H","e":"high","t":66,"s":0.32,"c":1},{"p":"H","e":"high","t":80,"s":0.32,"c":1},{"p":"H","e":"high","t":82,"s":0.25},{"p":"H","e":"high","t":84,"s":0.16},{"p":"H","e":"high","t":91,"s":0.16,"c":1},{"p":"H","e":"high","t":123,"s":0.16,"c":1},
{"p":"I","e":"low","t":0,"s":1},{"p":"I","e":"low","t":1,"s":0.98},{"p":"I","e":"low","t":3,"s":0.97},{"p":"I","e":"low","t":6,"s":0.97,"c":1},{"p":"I","e":"low","t":10,"s":0.97,"c":1},{"p":"I","e":"low","t":13,"s":0.96},{"p":"I","e":"low","t":15,"s":0.96,"c":1},{"p":"I","e":"low","t":18,"s":0.95},{"p":"I","e":"low","t":20,"s":0.95,"c":1},{"p":"I","e":"low","t":23,"s":0.93},{"p":"I","e":"low","t":25,"s":0.92},{"p":"I","e":"low","t":26,"s":0.89},{"p":"I","e":"low","t":27,"s":0.86},{"p":"I","e":"low","t":28,"s":0.82},{"p":"I","e":"low","t":30,"s":0.81},{"p":"I","e":"low","t":33,"s":0.81,"c":1},{"p":"I","e":"low","t":35,"s":0.8},{"p":"I","e":"low","t":37,"s":0.77},{"p":"I","e":"low","t":40,"s":0.73},{"p":"I","e":"low","t":43,"s":0.73,"c":1},{"p":"I","e":"low","t":45,"s":0.7},{"p":"I","e":"low","t":48,"s":0.68},{"p":"I","e":"low","t":50,"s":0.66},{"p":"I","e":"low","t":52,"s":0.64},{"p":"I","e":"low","t":55,"s":0.63},{"p":"I","e":"low","t":58,"s":0.61},{"p":"I","e":"low","t":60,"s":0.6},{"p":"I","e":"low","t":63,"s":0.6,"c":1},{"p":"I","e":"low","t":67,"s":0.6,"c":1},{"p":"I","e":"low","t":71,"s":0.5},{"p":"I","e":"low","t":74,"s":0.5,"c":1},{"p":"I","e":"low","t":78,"s":0.5,"c":1},{"p":"I","e":"low","t":82,"s":0.42},{"p":"I","e":"low","t":84,"s":0.31},{"p":"I","e":"low","t":92,"s":0.31,"c":1},{"p":"I","e":"low","t":109,"s":0.16},{"p":"I","e":"low","t":111,"s":0.16,"c":1},
{"p":"I","e":"high","t":0,"s":1},{"p":"I","e":"high","t":1,"s":1,"c":1},{"p":"I","e":"high","t":2,"s":0.95},{"p":"I","e":"high","t":4,"s":0.9},{"p":"I","e":"high","t":7,"s":0.86},{"p":"I","e":"high","t":10,"s":0.8},{"p":"I","e":"high","t":13,"s":0.75},{"p":"I","e":"high","t":15,"s":0.72},{"p":"I","e":"high","t":18,"s":0.69},{"p":"I","e":"high","t":20,"s":0.66},{"p":"I","e":"high","t":22,"s":0.63},{"p":"I","e":"high","t":25,"s":0.59},{"p":"I","e":"high","t":28,"s":0.57},{"p":"I","e":"high","t":30,"s":0.57,"c":1},{"p":"I","e":"high","t":32,"s":0.55},{"p":"I","e":"high","t":35,"s":0.55,"c":1},{"p":"I","e":"high","t":38,"s":0.54},{"p":"I","e":"high","t":42,"s":0.51},{"p":"I","e":"high","t":44,"s":0.51,"c":1},{"p":"I","e":"high","t":46,"s":0.48},{"p":"I","e":"high","t":50,"s":0.46},{"p":"I","e":"high","t":53,"s":0.46,"c":1},{"p":"I","e":"high","t":55,"s":0.43},{"p":"I","e":"high","t":60,"s":0.4},{"p":"I","e":"high","t":64,"s":0.4,"c":1},{"p":"I","e":"high","t":70,"s":0.4,"c":1},{"p":"I","e":"high","t":75,"s":0.4,"c":1},{"p":"I","e":"high","t":81,"s":0.37},{"p":"I","e":"high","t":84,"s":0.3},{"p":"I","e":"high","t":91,"s":0.3,"c":1},{"p":"I","e":"high","t":104,"s":0.22},{"p":"I","e":"high","t":111,"s":0.22,"c":1},{"p":"I","e":"high","t":115,"s":0.22,"c":1},{"p":"I","e":"high","t":123,"s":0.22,"c":1},
{"p":"J","e":"low","t":0,"s":1},{"p":"J","e":"low","t":1,"s":0.98},{"p":"J","e":"low","t":3,"s":0.95},{"p":"J","e":"low","t":6,"s":0.93},{"p":"J","e":"low","t":8,"s":0.93,"c":1},{"p":"J","e":"low","t":10,"s":0.91},{"p":"J","e":"low","t":13,"s":0.89},{"p":"J","e":"low","t":15,"s":0.88},{"p":"J","e":"low","t":17,"s":0.88,"c":1},{"p":"J","e":"low","t":18,"s":0.85},{"p":"J","e":"low","t":20,"s":0.83},{"p":"J","e":"low","t":23,"s":0.8},{"p":"J","e":"low","t":25,"s":0.78},{"p":"J","e":"low","t":28,"s":0.74},{"p":"J","e":"low","t":30,"s":0.71},{"p":"J","e":"low","t":32,"s":0.71,"c":1},{"p":"J","e":"low","t":35,"s":0.7},{"p":"J","e":"low","t":38,"s":0.68},{"p":"J","e":"low","t":40,"s":0.67},{"p":"J","e":"low","t":43,"s":0.65},{"p":"J","e":"low","t":45,"s":0.64},{"p":"J","e":"low","t":48,"s":0.61},{"p":"J","e":"low","t":50,"s":0.6},{"p":"J","e":"low","t":52,"s":0.6,"c":1},{"p":"J","e":"low","t":55,"s":0.56},{"p":"J","e":"low","t":58,"s":0.54},{"p":"J","e":"low","t":60,"s":0.53},{"p":"J","e":"low","t":63,"s":0.53,"c":1},{"p":"J","e":"low","t":66,"s":0.53,"c":1},{"p":"J","e":"low","t":68,"s":0.49},{"p":"J","e":"low","t":71,"s":0.48},{"p":"J","e":"low","t":75,"s":0.48,"c":1},{"p":"J","e":"low","t":79,"s":0.48,"c":1},{"p":"J","e":"low","t":82,"s":0.42},{"p":"J","e":"low","t":84,"s":0.31},{"p":"J","e":"low","t":91,"s":0.31,"c":1},{"p":"J","e":"low","t":104,"s":0.25},{"p":"J","e":"low","t":109,"s":0.19},{"p":"J","e":"low","t":112,"s":0.19,"c":1},{"p":"J","e":"low","t":116,"s":0.19,"c":1},
{"p":"J","e":"high","t":0,"s":1},{"p":"J","e":"high","t":1,"s":1,"c":1},{"p":"J","e":"high","t":2,"s":0.93},{"p":"J","e":"high","t":4,"s":0.86},{"p":"J","e":"high","t":6,"s":0.83},{"p":"J","e":"high","t":8,"s":0.8},{"p":"J","e":"high","t":10,"s":0.72},{"p":"J","e":"high","t":11,"s":0.66},{"p":"J","e":"high","t":13,"s":0.63},{"p":"J","e":"high","t":16,"s":0.61},{"p":"J","e":"high","t":18,"s":0.61,"c":1},{"p":"J","e":"high","t":20,"s":0.59},{"p":"J","e":"high","t":22,"s":0.56},{"p":"J","e":"high","t":24,"s":0.52},{"p":"J","e":"high","t":28,"s":0.5},{"p":"J","e":"high","t":30,"s":0.48},{"p":"J","e":"high","t":32,"s":0.48,"c":1},{"p":"J","e":"high","t":35,"s":0.45},{"p":"J","e":"high","t":38,"s":0.43},{"p":"J","e":"high","t":40,"s":0.42},{"p":"J","e":"high","t":44,"s":0.42,"c":1},{"p":"J","e":"high","t":48,"s":0.38},{"p":"J","e":"high","t":50,"s":0.35},{"p":"J","e":"high","t":55,"s":0.35,"c":1},{"p":"J","e":"high","t":62,"s":0.29},{"p":"J","e":"high","t":76,"s":0.29,"c":1},{"p":"J","e":"high","t":80,"s":0.29,"c":1},{"p":"J","e":"high","t":91,"s":0.29,"c":1},{"p":"J","e":"high","t":123,"s":0.29,"c":1}
]
},
"columns": 3,
"bounds": "flush",
"align": "each",
"spacing": {"row": 37, "column": 58},
"resolve": {"scale": {"color": "independent"}, "legend": {"color": "independent"}},
"concat": [
{"width": 213, "height": 182, "title": "FOXM1 (2305)", "layer": [
 {"data": {"name": "km"}, "transform": [{"filter": "datum.p=='A'"}], "mark": {"type": "line", "interpolate": "step-after", "strokeWidth": 1}, "encoding": {"x": {"field": "t", "type": "quantitative", "scale": {"domain": [-4.9, 127.9], "nice": false, "zero": false}, "axis": {"values": [0,20,40,60,80,100,120], "tickCount": 20, "labelOverlap": false, "title": "Time (months)", "labelPadding": 2, "titlePadding": 3}}, "y": {"field": "s", "type": "quantitative", "scale": {"domain": [-0.04, 1.04], "nice": false, "zero": false}, "axis": {"values": [0,0.2,0.4,0.6,0.8,1], "tickCount": 20, "labelOverlap": false, "format": ".1f", "title": "Probability", "labelAngle": 270, "labelAlign": "center", "labelBaseline": "bottom", "labelPadding": 3, "titlePadding": 5}}, "color": {"field": "e", "type": "nominal", "scale": {"domain": ["low","high"], "range": ["#333333","#ef5b2f"]}, "title": "Expression"}}},
 {"data": {"name": "km"}, "transform": [{"filter": "datum.p=='A' && datum.c==1"}], "mark": {"type": "point", "shape": "M-1,0H1M0,-1V1", "size": 20, "strokeWidth": 0.8, "filled": false, "opacity": 1}, "encoding": {"x": {"field": "t", "type": "quantitative"}, "y": {"field": "s", "type": "quantitative"}, "stroke": {"condition": {"test": "datum.e=='high'", "value": "#ef5b2f"}, "value": "#333333"}}},
 {"data": {"name": "info"}, "transform": [{"filter": "datum.p=='A'"}], "mark": {"type": "text", "align": "right", "baseline": "top", "lineBreak": "\n", "fontSize": 10, "lineHeight": 12.5, "dx": -4, "dy": 4, "color": "#111"}, "encoding": {"x": {"datum": 127.9}, "y": {"datum": 1.04}, "text": {"field": "lab"}}}
]},
{"width": 213, "height": 182, "title": "AURKA (6790)", "layer": [
 {"data": {"name": "km"}, "transform": [{"filter": "datum.p=='B'"}], "mark": {"type": "line", "interpolate": "step-after", "strokeWidth": 1}, "encoding": {"x": {"field": "t", "type": "quantitative", "scale": {"domain": [-4.9, 127.9], "nice": false, "zero": false}, "axis": {"values": [0,20,40,60,80,100,120], "tickCount": 20, "labelOverlap": false, "title": "Time (months)", "labelPadding": 2, "titlePadding": 3}}, "y": {"field": "s", "type": "quantitative", "scale": {"domain": [-0.04, 1.04], "nice": false, "zero": false}, "axis": {"values": [0,0.2,0.4,0.6,0.8,1], "tickCount": 20, "labelOverlap": false, "format": ".1f", "title": "Probability", "labelAngle": 270, "labelAlign": "center", "labelBaseline": "bottom", "labelPadding": 3, "titlePadding": 5}}, "color": {"field": "e", "type": "nominal", "scale": {"domain": ["low","high"], "range": ["#333333","#ef5b2f"]}, "title": "Expression"}}},
 {"data": {"name": "km"}, "transform": [{"filter": "datum.p=='B' && datum.c==1"}], "mark": {"type": "point", "shape": "M-1,0H1M0,-1V1", "size": 20, "strokeWidth": 0.8, "filled": false, "opacity": 1}, "encoding": {"x": {"field": "t", "type": "quantitative"}, "y": {"field": "s", "type": "quantitative"}, "stroke": {"condition": {"test": "datum.e=='high'", "value": "#ef5b2f"}, "value": "#333333"}}},
 {"data": {"name": "info"}, "transform": [{"filter": "datum.p=='B'"}], "mark": {"type": "text", "align": "right", "baseline": "top", "lineBreak": "\n", "fontSize": 10, "lineHeight": 12.5, "dx": -4, "dy": 4, "color": "#111"}, "encoding": {"x": {"datum": 127.9}, "y": {"datum": 1.04}, "text": {"field": "lab"}}}
]},
{"width": 213, "height": 182, "title": "CCNA2 (890)", "layer": [
 {"data": {"name": "km"}, "transform": [{"filter": "datum.p=='C'"}], "mark": {"type": "line", "interpolate": "step-after", "strokeWidth": 1}, "encoding": {"x": {"field": "t", "type": "quantitative", "scale": {"domain": [-4.9, 127.9], "nice": false, "zero": false}, "axis": {"values": [0,20,40,60,80,100,120], "tickCount": 20, "labelOverlap": false, "title": "Time (months)", "labelPadding": 2, "titlePadding": 3}}, "y": {"field": "s", "type": "quantitative", "scale": {"domain": [-0.04, 1.04], "nice": false, "zero": false}, "axis": {"values": [0,0.2,0.4,0.6,0.8,1], "tickCount": 20, "labelOverlap": false, "format": ".1f", "title": "Probability", "labelAngle": 270, "labelAlign": "center", "labelBaseline": "bottom", "labelPadding": 3, "titlePadding": 5}}, "color": {"field": "e", "type": "nominal", "scale": {"domain": ["low","high"], "range": ["#333333","#ef5b2f"]}, "title": "Expression"}}},
 {"data": {"name": "km"}, "transform": [{"filter": "datum.p=='C' && datum.c==1"}], "mark": {"type": "point", "shape": "M-1,0H1M0,-1V1", "size": 20, "strokeWidth": 0.8, "filled": false, "opacity": 1}, "encoding": {"x": {"field": "t", "type": "quantitative"}, "y": {"field": "s", "type": "quantitative"}, "stroke": {"condition": {"test": "datum.e=='high'", "value": "#ef5b2f"}, "value": "#333333"}}},
 {"data": {"name": "info"}, "transform": [{"filter": "datum.p=='C'"}], "mark": {"type": "text", "align": "right", "baseline": "top", "lineBreak": "\n", "fontSize": 10, "lineHeight": 12.5, "dx": -4, "dy": 4, "color": "#111"}, "encoding": {"x": {"datum": 127.9}, "y": {"datum": 1.04}, "text": {"field": "lab"}}}
]},
{"width": 213, "height": 27.5, "data": {"name": "risk"}, "transform": [{"filter": "datum.p=='A'"}], "view": {"stroke": null}, "mark": {"type": "text", "fontSize": 6.5}, "encoding": {"x": {"field": "t", "type": "quantitative", "scale": {"domain": [-4.9, 127.9], "nice": false, "zero": false}, "axis": {"orient": "top", "labels": false, "ticks": false, "domain": false, "title": "Number at risk", "titleFontSize": 6, "titleAnchor": "start", "titleAlign": "left", "titlePadding": 1}}, "y": {"field": "e", "type": "nominal", "sort": ["low","high"], "scale": {"padding": 1.1176, "align": 0.2237}, "axis": {"title": "A", "titleAngle": 0, "titleFontSize": 16, "titleX": -30, "titleY": -7, "titleAlign": "left", "titleBaseline": "alphabetic", "labelFontSize": 6.5, "ticks": false, "tickSize": 0, "domain": false, "labelPadding": 9, "labelColor": {"expr": "datum.value=='high' ? '#ef5b2f' : '#333333'"}}}, "text": {"field": "n"}, "color": {"condition": {"test": "datum.e=='high'", "value": "#ef5b2f"}, "value": "#333333"}}},
{"width": 213, "height": 27.5, "data": {"name": "risk"}, "transform": [{"filter": "datum.p=='B'"}], "view": {"stroke": null}, "mark": {"type": "text", "fontSize": 6.5}, "encoding": {"x": {"field": "t", "type": "quantitative", "scale": {"domain": [-4.9, 127.9], "nice": false, "zero": false}, "axis": {"orient": "top", "labels": false, "ticks": false, "domain": false, "title": "Number at risk", "titleFontSize": 6, "titleAnchor": "start", "titleAlign": "left", "titlePadding": 1}}, "y": {"field": "e", "type": "nominal", "sort": ["low","high"], "scale": {"padding": 1.1176, "align": 0.2237}, "axis": {"title": "B", "titleAngle": 0, "titleFontSize": 16, "titleX": -30, "titleY": -7, "titleAlign": "left", "titleBaseline": "alphabetic", "labelFontSize": 6.5, "ticks": false, "tickSize": 0, "domain": false, "labelPadding": 9, "labelColor": {"expr": "datum.value=='high' ? '#ef5b2f' : '#333333'"}}}, "text": {"field": "n"}, "color": {"condition": {"test": "datum.e=='high'", "value": "#ef5b2f"}, "value": "#333333"}}},
{"width": 213, "height": 27.5, "data": {"name": "risk"}, "transform": [{"filter": "datum.p=='C'"}], "view": {"stroke": null}, "mark": {"type": "text", "fontSize": 6.5}, "encoding": {"x": {"field": "t", "type": "quantitative", "scale": {"domain": [-4.9, 127.9], "nice": false, "zero": false}, "axis": {"orient": "top", "labels": false, "ticks": false, "domain": false, "title": "Number at risk", "titleFontSize": 6, "titleAnchor": "start", "titleAlign": "left", "titlePadding": 1}}, "y": {"field": "e", "type": "nominal", "sort": ["low","high"], "scale": {"padding": 1.1176, "align": 0.2237}, "axis": {"title": "C", "titleAngle": 0, "titleFontSize": 16, "titleX": -30, "titleY": -7, "titleAlign": "left", "titleBaseline": "alphabetic", "labelFontSize": 6.5, "ticks": false, "tickSize": 0, "domain": false, "labelPadding": 9, "labelColor": {"expr": "datum.value=='high' ? '#ef5b2f' : '#333333'"}}}, "text": {"field": "n"}, "color": {"condition": {"test": "datum.e=='high'", "value": "#ef5b2f"}, "value": "#333333"}}},
{"width": 213, "height": 182, "title": "CDKN3 (1033)", "layer": [
 {"data": {"name": "km"}, "transform": [{"filter": "datum.p=='D'"}], "mark": {"type": "line", "interpolate": "step-after", "strokeWidth": 1}, "encoding": {"x": {"field": "t", "type": "quantitative", "scale": {"domain": [-4.9, 127.9], "nice": false, "zero": false}, "axis": {"values": [0,20,40,60,80,100,120], "tickCount": 20, "labelOverlap": false, "title": "Time (months)", "labelPadding": 2, "titlePadding": 3}}, "y": {"field": "s", "type": "quantitative", "scale": {"domain": [-0.04, 1.04], "nice": false, "zero": false}, "axis": {"values": [0,0.2,0.4,0.6,0.8,1], "tickCount": 20, "labelOverlap": false, "format": ".1f", "title": "Probability", "labelAngle": 270, "labelAlign": "center", "labelBaseline": "bottom", "labelPadding": 3, "titlePadding": 5}}, "color": {"field": "e", "type": "nominal", "scale": {"domain": ["low","high"], "range": ["#333333","#ef5b2f"]}, "title": "Expression"}}},
 {"data": {"name": "km"}, "transform": [{"filter": "datum.p=='D' && datum.c==1"}], "mark": {"type": "point", "shape": "M-1,0H1M0,-1V1", "size": 20, "strokeWidth": 0.8, "filled": false, "opacity": 1}, "encoding": {"x": {"field": "t", "type": "quantitative"}, "y": {"field": "s", "type": "quantitative"}, "stroke": {"condition": {"test": "datum.e=='high'", "value": "#ef5b2f"}, "value": "#333333"}}},
 {"data": {"name": "info"}, "transform": [{"filter": "datum.p=='D'"}], "mark": {"type": "text", "align": "right", "baseline": "top", "lineBreak": "\n", "fontSize": 10, "lineHeight": 12.5, "dx": -4, "dy": 4, "color": "#111"}, "encoding": {"x": {"datum": 127.9}, "y": {"datum": 1.04}, "text": {"field": "lab"}}}
]},
{"width": 213, "height": 182, "title": "MKI67 (4288)", "layer": [
 {"data": {"name": "km"}, "transform": [{"filter": "datum.p=='E'"}], "mark": {"type": "line", "interpolate": "step-after", "strokeWidth": 1}, "encoding": {"x": {"field": "t", "type": "quantitative", "scale": {"domain": [-4.9, 127.9], "nice": false, "zero": false}, "axis": {"values": [0,20,40,60,80,100,120], "tickCount": 20, "labelOverlap": false, "title": "Time (months)", "labelPadding": 2, "titlePadding": 3}}, "y": {"field": "s", "type": "quantitative", "scale": {"domain": [-0.04, 1.04], "nice": false, "zero": false}, "axis": {"values": [0,0.2,0.4,0.6,0.8,1], "tickCount": 20, "labelOverlap": false, "format": ".1f", "title": "Probability", "labelAngle": 270, "labelAlign": "center", "labelBaseline": "bottom", "labelPadding": 3, "titlePadding": 5}}, "color": {"field": "e", "type": "nominal", "scale": {"domain": ["low","high"], "range": ["#333333","#ef5b2f"]}, "title": "Expression"}}},
 {"data": {"name": "km"}, "transform": [{"filter": "datum.p=='E' && datum.c==1"}], "mark": {"type": "point", "shape": "M-1,0H1M0,-1V1", "size": 20, "strokeWidth": 0.8, "filled": false, "opacity": 1}, "encoding": {"x": {"field": "t", "type": "quantitative"}, "y": {"field": "s", "type": "quantitative"}, "stroke": {"condition": {"test": "datum.e=='high'", "value": "#ef5b2f"}, "value": "#333333"}}},
 {"data": {"name": "info"}, "transform": [{"filter": "datum.p=='E'"}], "mark": {"type": "text", "align": "right", "baseline": "top", "lineBreak": "\n", "fontSize": 10, "lineHeight": 12.5, "dx": -4, "dy": 4, "color": "#111"}, "encoding": {"x": {"datum": 127.9}, "y": {"datum": 1.04}, "text": {"field": "lab"}}}
]},
{"width": 213, "height": 182, "title": "EZH2 (2146)", "layer": [
 {"data": {"name": "km"}, "transform": [{"filter": "datum.p=='F'"}], "mark": {"type": "line", "interpolate": "step-after", "strokeWidth": 1}, "encoding": {"x": {"field": "t", "type": "quantitative", "scale": {"domain": [-4.9, 127.9], "nice": false, "zero": false}, "axis": {"values": [0,20,40,60,80,100,120], "tickCount": 20, "labelOverlap": false, "title": "Time (months)", "labelPadding": 2, "titlePadding": 3}}, "y": {"field": "s", "type": "quantitative", "scale": {"domain": [-0.04, 1.04], "nice": false, "zero": false}, "axis": {"values": [0,0.2,0.4,0.6,0.8,1], "tickCount": 20, "labelOverlap": false, "format": ".1f", "title": "Probability", "labelAngle": 270, "labelAlign": "center", "labelBaseline": "bottom", "labelPadding": 3, "titlePadding": 5}}, "color": {"field": "e", "type": "nominal", "scale": {"domain": ["low","high"], "range": ["#333333","#ef5b2f"]}, "title": "Expression"}}},
 {"data": {"name": "km"}, "transform": [{"filter": "datum.p=='F' && datum.c==1"}], "mark": {"type": "point", "shape": "M-1,0H1M0,-1V1", "size": 20, "strokeWidth": 0.8, "filled": false, "opacity": 1}, "encoding": {"x": {"field": "t", "type": "quantitative"}, "y": {"field": "s", "type": "quantitative"}, "stroke": {"condition": {"test": "datum.e=='high'", "value": "#ef5b2f"}, "value": "#333333"}}},
 {"data": {"name": "info"}, "transform": [{"filter": "datum.p=='F'"}], "mark": {"type": "text", "align": "right", "baseline": "top", "lineBreak": "\n", "fontSize": 10, "lineHeight": 12.5, "dx": -4, "dy": 4, "color": "#111"}, "encoding": {"x": {"datum": 127.9}, "y": {"datum": 1.04}, "text": {"field": "lab"}}}
]},
{"width": 213, "height": 27.5, "data": {"name": "risk"}, "transform": [{"filter": "datum.p=='D'"}], "view": {"stroke": null}, "mark": {"type": "text", "fontSize": 6.5}, "encoding": {"x": {"field": "t", "type": "quantitative", "scale": {"domain": [-4.9, 127.9], "nice": false, "zero": false}, "axis": {"orient": "top", "labels": false, "ticks": false, "domain": false, "title": "Number at risk", "titleFontSize": 6, "titleAnchor": "start", "titleAlign": "left", "titlePadding": 1}}, "y": {"field": "e", "type": "nominal", "sort": ["low","high"], "scale": {"padding": 1.1176, "align": 0.2237}, "axis": {"title": "D", "titleAngle": 0, "titleFontSize": 16, "titleX": -30, "titleY": -7, "titleAlign": "left", "titleBaseline": "alphabetic", "labelFontSize": 6.5, "ticks": false, "tickSize": 0, "domain": false, "labelPadding": 9, "labelColor": {"expr": "datum.value=='high' ? '#ef5b2f' : '#333333'"}}}, "text": {"field": "n"}, "color": {"condition": {"test": "datum.e=='high'", "value": "#ef5b2f"}, "value": "#333333"}}},
{"width": 213, "height": 27.5, "data": {"name": "risk"}, "transform": [{"filter": "datum.p=='E'"}], "view": {"stroke": null}, "mark": {"type": "text", "fontSize": 6.5}, "encoding": {"x": {"field": "t", "type": "quantitative", "scale": {"domain": [-4.9, 127.9], "nice": false, "zero": false}, "axis": {"orient": "top", "labels": false, "ticks": false, "domain": false, "title": "Number at risk", "titleFontSize": 6, "titleAnchor": "start", "titleAlign": "left", "titlePadding": 1}}, "y": {"field": "e", "type": "nominal", "sort": ["low","high"], "scale": {"padding": 1.1176, "align": 0.2237}, "axis": {"title": "E", "titleAngle": 0, "titleFontSize": 16, "titleX": -30, "titleY": -7, "titleAlign": "left", "titleBaseline": "alphabetic", "labelFontSize": 6.5, "ticks": false, "tickSize": 0, "domain": false, "labelPadding": 9, "labelColor": {"expr": "datum.value=='high' ? '#ef5b2f' : '#333333'"}}}, "text": {"field": "n"}, "color": {"condition": {"test": "datum.e=='high'", "value": "#ef5b2f"}, "value": "#333333"}}},
{"width": 213, "height": 27.5, "data": {"name": "risk"}, "transform": [{"filter": "datum.p=='F'"}], "view": {"stroke": null}, "mark": {"type": "text", "fontSize": 6.5}, "encoding": {"x": {"field": "t", "type": "quantitative", "scale": {"domain": [-4.9, 127.9], "nice": false, "zero": false}, "axis": {"orient": "top", "labels": false, "ticks": false, "domain": false, "title": "Number at risk", "titleFontSize": 6, "titleAnchor": "start", "titleAlign": "left", "titlePadding": 1}}, "y": {"field": "e", "type": "nominal", "sort": ["low","high"], "scale": {"padding": 1.1176, "align": 0.2237}, "axis": {"title": "F", "titleAngle": 0, "titleFontSize": 16, "titleX": -30, "titleY": -7, "titleAlign": "left", "titleBaseline": "alphabetic", "labelFontSize": 6.5, "ticks": false, "tickSize": 0, "domain": false, "labelPadding": 9, "labelColor": {"expr": "datum.value=='high' ? '#ef5b2f' : '#333333'"}}}, "text": {"field": "n"}, "color": {"condition": {"test": "datum.e=='high'", "value": "#ef5b2f"}, "value": "#333333"}}},
{"width": 213, "height": 182, "title": "CDC6 (990)", "layer": [
 {"data": {"name": "km"}, "transform": [{"filter": "datum.p=='G'"}], "mark": {"type": "line", "interpolate": "step-after", "strokeWidth": 1}, "encoding": {"x": {"field": "t", "type": "quantitative", "scale": {"domain": [-4.9, 127.9], "nice": false, "zero": false}, "axis": {"values": [0,20,40,60,80,100,120], "tickCount": 20, "labelOverlap": false, "title": "Time (months)", "labelPadding": 2, "titlePadding": 3}}, "y": {"field": "s", "type": "quantitative", "scale": {"domain": [-0.04, 1.04], "nice": false, "zero": false}, "axis": {"values": [0,0.2,0.4,0.6,0.8,1], "tickCount": 20, "labelOverlap": false, "format": ".1f", "title": "Probability", "labelAngle": 270, "labelAlign": "center", "labelBaseline": "bottom", "labelPadding": 3, "titlePadding": 5}}, "color": {"field": "e", "type": "nominal", "scale": {"domain": ["low","high"], "range": ["#333333","#ef5b2f"]}, "title": "Expression"}}},
 {"data": {"name": "km"}, "transform": [{"filter": "datum.p=='G' && datum.c==1"}], "mark": {"type": "point", "shape": "M-1,0H1M0,-1V1", "size": 20, "strokeWidth": 0.8, "filled": false, "opacity": 1}, "encoding": {"x": {"field": "t", "type": "quantitative"}, "y": {"field": "s", "type": "quantitative"}, "stroke": {"condition": {"test": "datum.e=='high'", "value": "#ef5b2f"}, "value": "#333333"}}},
 {"data": {"name": "info"}, "transform": [{"filter": "datum.p=='G'"}], "mark": {"type": "text", "align": "right", "baseline": "top", "lineBreak": "\n", "fontSize": 10, "lineHeight": 12.5, "dx": -4, "dy": 4, "color": "#111"}, "encoding": {"x": {"datum": 127.9}, "y": {"datum": 1.04}, "text": {"field": "lab"}}}
]},
{"width": 213, "height": 182, "title": "CDK1 (983)", "layer": [
 {"data": {"name": "km"}, "transform": [{"filter": "datum.p=='H'"}], "mark": {"type": "line", "interpolate": "step-after", "strokeWidth": 1}, "encoding": {"x": {"field": "t", "type": "quantitative", "scale": {"domain": [-4.9, 127.9], "nice": false, "zero": false}, "axis": {"values": [0,20,40,60,80,100,120], "tickCount": 20, "labelOverlap": false, "title": "Time (months)", "labelPadding": 2, "titlePadding": 3}}, "y": {"field": "s", "type": "quantitative", "scale": {"domain": [-0.04, 1.04], "nice": false, "zero": false}, "axis": {"values": [0,0.2,0.4,0.6,0.8,1], "tickCount": 20, "labelOverlap": false, "format": ".1f", "title": "Probability", "labelAngle": 270, "labelAlign": "center", "labelBaseline": "bottom", "labelPadding": 3, "titlePadding": 5}}, "color": {"field": "e", "type": "nominal", "scale": {"domain": ["low","high"], "range": ["#333333","#ef5b2f"]}, "title": "Expression"}}},
 {"data": {"name": "km"}, "transform": [{"filter": "datum.p=='H' && datum.c==1"}], "mark": {"type": "point", "shape": "M-1,0H1M0,-1V1", "size": 20, "strokeWidth": 0.8, "filled": false, "opacity": 1}, "encoding": {"x": {"field": "t", "type": "quantitative"}, "y": {"field": "s", "type": "quantitative"}, "stroke": {"condition": {"test": "datum.e=='high'", "value": "#ef5b2f"}, "value": "#333333"}}},
 {"data": {"name": "info"}, "transform": [{"filter": "datum.p=='H'"}], "mark": {"type": "text", "align": "right", "baseline": "top", "lineBreak": "\n", "fontSize": 10, "lineHeight": 12.5, "dx": -4, "dy": 4, "color": "#111"}, "encoding": {"x": {"datum": 127.9}, "y": {"datum": 1.04}, "text": {"field": "lab"}}}
]},
{"width": 213, "height": 182, "title": "CCNB1 (891)", "layer": [
 {"data": {"name": "km"}, "transform": [{"filter": "datum.p=='I'"}], "mark": {"type": "line", "interpolate": "step-after", "strokeWidth": 1}, "encoding": {"x": {"field": "t", "type": "quantitative", "scale": {"domain": [-4.9, 127.9], "nice": false, "zero": false}, "axis": {"values": [0,20,40,60,80,100,120], "tickCount": 20, "labelOverlap": false, "title": "Time (months)", "labelPadding": 2, "titlePadding": 3}}, "y": {"field": "s", "type": "quantitative", "scale": {"domain": [-0.04, 1.04], "nice": false, "zero": false}, "axis": {"values": [0,0.2,0.4,0.6,0.8,1], "tickCount": 20, "labelOverlap": false, "format": ".1f", "title": "Probability", "labelAngle": 270, "labelAlign": "center", "labelBaseline": "bottom", "labelPadding": 3, "titlePadding": 5}}, "color": {"field": "e", "type": "nominal", "scale": {"domain": ["low","high"], "range": ["#333333","#ef5b2f"]}, "title": "Expression"}}},
 {"data": {"name": "km"}, "transform": [{"filter": "datum.p=='I' && datum.c==1"}], "mark": {"type": "point", "shape": "M-1,0H1M0,-1V1", "size": 20, "strokeWidth": 0.8, "filled": false, "opacity": 1}, "encoding": {"x": {"field": "t", "type": "quantitative"}, "y": {"field": "s", "type": "quantitative"}, "stroke": {"condition": {"test": "datum.e=='high'", "value": "#ef5b2f"}, "value": "#333333"}}},
 {"data": {"name": "info"}, "transform": [{"filter": "datum.p=='I'"}], "mark": {"type": "text", "align": "right", "baseline": "top", "lineBreak": "\n", "fontSize": 10, "lineHeight": 12.5, "dx": -4, "dy": 4, "color": "#111"}, "encoding": {"x": {"datum": 127.9}, "y": {"datum": 1.04}, "text": {"field": "lab"}}}
]},
{"width": 213, "height": 17, "data": {"name": "risk"}, "transform": [{"filter": "datum.p=='G'"}], "view": {"stroke": null}, "mark": {"type": "text", "fontSize": 6.5}, "encoding": {"x": {"field": "t", "type": "quantitative", "scale": {"domain": [-4.9, 127.9], "nice": false, "zero": false}, "axis": {"orient": "top", "labels": false, "ticks": false, "domain": false, "title": "Number at risk", "titleFontSize": 6, "titleAnchor": "start", "titleAlign": "left", "titlePadding": 1}}, "y": {"field": "e", "type": "nominal", "sort": ["low","high"], "axis": {"title": "G", "titleAngle": 0, "titleFontSize": 16, "titleX": -30, "titleY": -7, "titleAlign": "left", "titleBaseline": "alphabetic", "labelFontSize": 6.5, "ticks": false, "tickSize": 0, "domain": false, "labelPadding": 9, "labelColor": {"expr": "datum.value=='high' ? '#ef5b2f' : '#333333'"}}}, "text": {"field": "n"}, "color": {"condition": {"test": "datum.e=='high'", "value": "#ef5b2f"}, "value": "#333333"}}},
{"width": 213, "height": 17, "data": {"name": "risk"}, "transform": [{"filter": "datum.p=='H'"}], "view": {"stroke": null}, "mark": {"type": "text", "fontSize": 6.5}, "encoding": {"x": {"field": "t", "type": "quantitative", "scale": {"domain": [-4.9, 127.9], "nice": false, "zero": false}, "axis": {"orient": "top", "labels": false, "ticks": false, "domain": false, "title": "Number at risk", "titleFontSize": 6, "titleAnchor": "start", "titleAlign": "left", "titlePadding": 1}}, "y": {"field": "e", "type": "nominal", "sort": ["low","high"], "axis": {"title": "H", "titleAngle": 0, "titleFontSize": 16, "titleX": -30, "titleY": -7, "titleAlign": "left", "titleBaseline": "alphabetic", "labelFontSize": 6.5, "ticks": false, "tickSize": 0, "domain": false, "labelPadding": 9, "labelColor": {"expr": "datum.value=='high' ? '#ef5b2f' : '#333333'"}}}, "text": {"field": "n"}, "color": {"condition": {"test": "datum.e=='high'", "value": "#ef5b2f"}, "value": "#333333"}}},
{"width": 213, "height": 17, "data": {"name": "risk"}, "transform": [{"filter": "datum.p=='I'"}], "view": {"stroke": null}, "mark": {"type": "text", "fontSize": 6.5}, "encoding": {"x": {"field": "t", "type": "quantitative", "scale": {"domain": [-4.9, 127.9], "nice": false, "zero": false}, "axis": {"orient": "top", "labels": false, "ticks": false, "domain": false, "title": "Number at risk", "titleFontSize": 6, "titleAnchor": "start", "titleAlign": "left", "titlePadding": 1}}, "y": {"field": "e", "type": "nominal", "sort": ["low","high"], "axis": {"title": "I", "titleAngle": 0, "titleFontSize": 16, "titleX": -30, "titleY": -7, "titleAlign": "left", "titleBaseline": "alphabetic", "labelFontSize": 6.5, "ticks": false, "tickSize": 0, "domain": false, "labelPadding": 9, "labelColor": {"expr": "datum.value=='high' ? '#ef5b2f' : '#333333'"}}}, "text": {"field": "n"}, "color": {"condition": {"test": "datum.e=='high'", "value": "#ef5b2f"}, "value": "#333333"}}},
{"width": 213, "height": 182, "title": "TOP2A (7153)", "layer": [
 {"data": {"name": "km"}, "transform": [{"filter": "datum.p=='J'"}], "mark": {"type": "line", "interpolate": "step-after", "strokeWidth": 1}, "encoding": {"x": {"field": "t", "type": "quantitative", "scale": {"domain": [-4.9, 127.9], "nice": false, "zero": false}, "axis": {"values": [0,20,40,60,80,100,120], "tickCount": 20, "labelOverlap": false, "title": "Time (months)", "labelPadding": 2, "titlePadding": 3}}, "y": {"field": "s", "type": "quantitative", "scale": {"domain": [-0.04, 1.04], "nice": false, "zero": false}, "axis": {"values": [0,0.2,0.4,0.6,0.8,1], "tickCount": 20, "labelOverlap": false, "format": ".1f", "title": "Probability", "labelAngle": 270, "labelAlign": "center", "labelBaseline": "bottom", "labelPadding": 3, "titlePadding": 5}}, "color": {"field": "e", "type": "nominal", "scale": {"domain": ["low","high"], "range": ["#333333","#ef5b2f"]}, "title": "Expression"}}},
 {"data": {"name": "km"}, "transform": [{"filter": "datum.p=='J' && datum.c==1"}], "mark": {"type": "point", "shape": "M-1,0H1M0,-1V1", "size": 20, "strokeWidth": 0.8, "filled": false, "opacity": 1}, "encoding": {"x": {"field": "t", "type": "quantitative"}, "y": {"field": "s", "type": "quantitative"}, "stroke": {"condition": {"test": "datum.e=='high'", "value": "#ef5b2f"}, "value": "#333333"}}},
 {"data": {"name": "info"}, "transform": [{"filter": "datum.p=='J'"}], "mark": {"type": "text", "align": "right", "baseline": "top", "lineBreak": "\n", "fontSize": 10, "lineHeight": 12.5, "dx": -4, "dy": 4, "color": "#111"}, "encoding": {"x": {"datum": 127.9}, "y": {"datum": 1.04}, "text": {"field": "lab"}}}
]},
{"width": 213, "height": 182, "data": {"values": []}, "mark": "point", "view": {"stroke": null}},
{"width": 213, "height": 182, "data": {"values": []}, "mark": "point", "view": {"stroke": null}},
{"width": 213, "height": 17, "data": {"name": "risk"}, "transform": [{"filter": "datum.p=='J'"}], "view": {"stroke": null}, "mark": {"type": "text", "fontSize": 6.5}, "encoding": {"x": {"field": "t", "type": "quantitative", "scale": {"domain": [-4.9, 127.9], "nice": false, "zero": false}, "axis": {"orient": "top", "labels": false, "ticks": false, "domain": false, "title": "Number at risk", "titleFontSize": 6, "titleAnchor": "start", "titleAlign": "left", "titlePadding": 1}}, "y": {"field": "e", "type": "nominal", "sort": ["low","high"], "axis": {"title": "J", "titleAngle": 0, "titleFontSize": 16, "titleX": -30, "titleY": -7, "titleAlign": "left", "titleBaseline": "alphabetic", "labelFontSize": 6.5, "ticks": false, "tickSize": 0, "domain": false, "labelPadding": 9, "labelColor": {"expr": "datum.value=='high' ? '#ef5b2f' : '#333333'"}}}, "text": {"field": "n"}, "color": {"condition": {"test": "datum.e=='high'", "value": "#ef5b2f"}, "value": "#333333"}}}
]
}
